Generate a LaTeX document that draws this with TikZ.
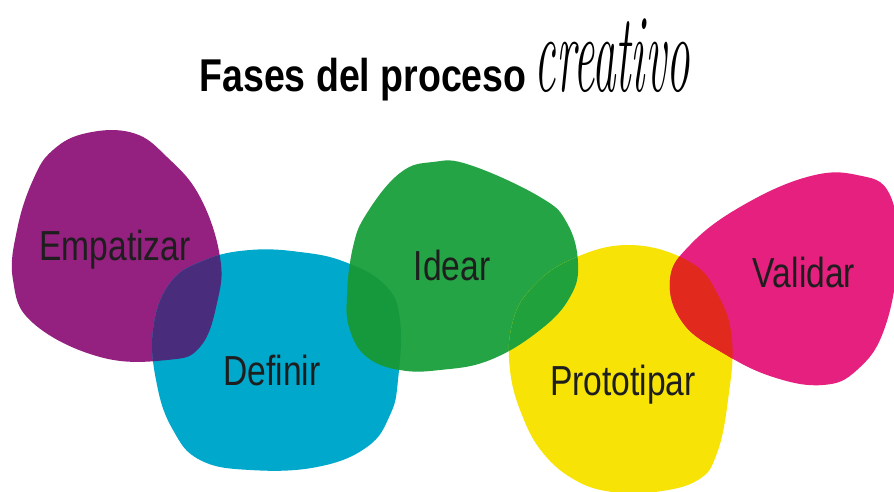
\documentclass[tikz,border=0pt]{standalone}
\usepackage{fontspec}
\newfontfamily\phasefont[FakeStretch=0.8]{Liberation Sans}
\newfontfamily\titlefont[FakeStretch=0.815]{Liberation Sans}
\newfontfamily\handfont[FakeStretch=0.42]{Latin Modern Roman}
\usepackage{tikz}
\usetikzlibrary{positioning}

\definecolor{empcol}{HTML}{94207F}
\definecolor{defcol}{HTML}{00A8CC}
\definecolor{ideacol}{HTML}{25A445}
\definecolor{protocol}{HTML}{F7E406}
\definecolor{valcol}{HTML}{E5207F}
\definecolor{empdefcol}{HTML}{4A2C7C}
\definecolor{defideacol}{HTML}{16993D}
\definecolor{ideaprotocol}{HTML}{21A13C}
\definecolor{protovalcol}{HTML}{E2291E}
\definecolor{labelcol}{HTML}{1E1E1E}

% Blob outlines
\def\empblob{plot[smooth cycle,tension=0.7] coordinates {(53,150) (87,133) (133,133) (167,157) (200,197) (220,257) (217,303) (200,347) (167,360) (100,357) (33,323) (13,280) (17,230) (33,180)}}
\def\defblob{plot[smooth cycle,tension=0.7] coordinates {(153,330) (170,283) (205,260) (250,250) (300,252) (345,262) (385,285) (400,320) (398,380) (390,415) (367,447) (317,467) (250,470) (200,460) (173,430) (157,385)}}
\def\ideablob{plot[smooth cycle,tension=0.7] coordinates {(433,162) (470,165) (540,197) (567,223) (578,263) (570,297) (540,330) (490,360) (440,370) (400,370) (367,357) (350,330) (347,297) (353,247) (367,213) (400,173)}}
\def\protoblob{plot[smooth cycle,tension=0.7] coordinates {(570,260) (630,245) (690,262) (718,295) (732,340) (728,400) (717,453) (698,480) (655,492) (612,492) (575,480) (543,453) (522,415) (510,370) (512,325) (530,290)}}
\def\valblob{plot[smooth cycle,tension=0.7] coordinates {(670,280) (690,245) (740,207) (807,177) (857,175) (890,195) (897,260) (884,330) (857,370) (823,385) (773,377) (723,353) (683,323)}}

\begin{document}
\begin{tikzpicture}[x=1pt,y=-1pt,
    phase/.style={text=labelcol,inner sep=0,anchor=base,
        font=\phasefont\fontsize{42}{50}\selectfont}]
        \useasboundingbox[fill=white] (0,0) rectangle (894,492);

        % Title
        \node[inner sep=0,
        anchor=base,
        font=\titlefont\bfseries\fontsize{46}{54}\selectfont
        ] (title) at (363,92) {Fases del proceso};
        \node[inner sep=0,
        base right=8pt of title,
        font=\handfont\itshape\fontsize{112}{120}\selectfont
        ] (titlehand) {creativo};

        % Blobs
        \fill[empcol] \empblob;
        \fill[defcol] \defblob;
        \fill[ideacol] \ideablob;
        \fill[protocol] \protoblob;
        \fill[valcol] \valblob;

        % Overlaps
        \begin{scope}
            \clip \empblob;
            \fill[empdefcol] \defblob;
        \end{scope}
        \begin{scope}
            \clip \defblob;
            \fill[defideacol] \ideablob;
        \end{scope}
        \begin{scope}
            \clip \ideablob;
            \fill[ideaprotocol] \protoblob;
        \end{scope}
        \begin{scope}
            \clip \protoblob;
            \fill[protovalcol] \valblob;
        \end{scope}

        % Phase labels
        \node[phase] (empatizar) at (115,260) {Empatizar};
        \node[phase] (definir) at (272,385) {Definir};
        \node[phase] (idear) at (452,280) {Idear};
        \node[phase] (prototipar) at (623,395) {Prototipar};
        \node[phase] (validar) at (804,287) {Validar};
    \end{tikzpicture}
\end{document}
